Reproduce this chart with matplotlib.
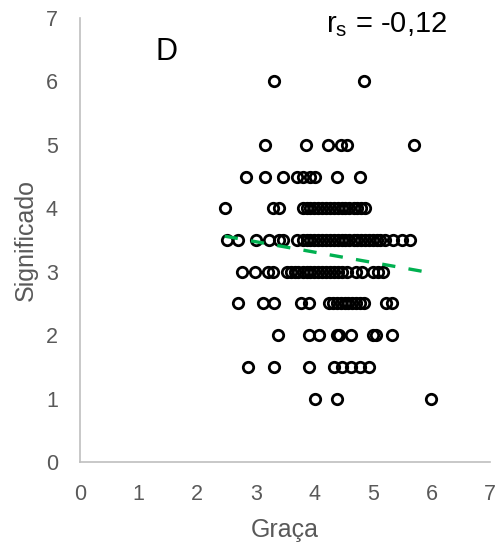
import numpy as np
import matplotlib.pyplot as plt

plt.rcParams['font.family'] = ['Liberation Sans', 'DejaVu Sans']

# valores de Graça para cada nível de Significado
graca_6 = [3.32, 4.85]
graca_5 = [3.16, 3.86, 4.23, 4.46, 4.55, 5.71]
graca_45 = [2.84, 3.16, 3.46, 3.70, 3.80, 3.92, 4.01, 4.38, 4.78]
graca_4 = [2.47, 3.30, 3.40, 3.80, 3.87, 3.93, 4.00, 4.07, 4.13, 4.20, 4.27,
           4.33, 4.40, 4.47, 4.53, 4.60, 4.67, 4.73, 4.80, 4.87]
graca_35 = [2.51, 2.70, 3.01, 3.23, 3.40, 3.46, 3.70, 3.80, 3.87, 3.93, 4.00,
            4.07, 4.13, 4.20, 4.27, 4.33, 4.40, 4.47, 4.53, 4.60, 4.67, 4.73,
            4.80, 4.87, 4.93, 5.00, 5.07, 5.13, 5.20, 5.35, 5.49, 5.63]
graca_3 = [2.76, 2.99, 3.21, 3.30, 3.53, 3.60, 3.67, 3.73, 3.80, 3.87, 3.93,
           4.00, 4.07, 4.13, 4.20, 4.27, 4.33, 4.40, 4.47, 4.55, 4.72, 4.81,
           5.01, 5.09, 5.18]
graca_25 = [2.70, 3.13, 3.31, 3.78, 3.91, 4.25, 4.32, 4.38, 4.45, 4.52, 4.58,
            4.65, 4.72, 4.78, 4.85, 5.23, 5.32]
graca_2 = [3.38, 3.91, 4.08, 4.38, 4.43, 4.62, 5.01, 5.06, 5.32]
graca_15 = [2.86, 3.31, 3.91, 4.34, 4.48, 4.62, 4.78, 4.94]
graca_1 = [4.01, 4.38, 6.0]

niveis = [6, 5, 4.5, 4, 3.5, 3, 2.5, 2, 1.5, 1]
linhas = [graca_6, graca_5, graca_45, graca_4, graca_35, graca_3,
          graca_25, graca_2, graca_15, graca_1]

# linha de tendência (pontas)
tendencia_x = [2.47, 6.0]
tendencia_y = [3.56, 2.98]

x = []
y = []
for nivel, linha in zip(niveis, linhas):
    x += linha
    y += [nivel] * len(linha)

fig = plt.figure(figsize=(5, 5.46), dpi=100)
ax = fig.add_axes([0.16, 0.154, 0.82, 0.813])

ax.plot(x, y, 'o', markersize=7.5, markerfacecolor='none',
        markeredgecolor='black', markeredgewidth=2, zorder=2)
ax.plot(tendencia_x, tendencia_y, color='#00B050', lw=2.4,
        dashes=(4, 4), zorder=3)

ax.set_xlim(0, 7)
ax.set_ylim(0, 7)
ax.set_xticks(range(8))
ax.set_yticks(range(8))
ax.tick_params(length=0, labelsize=15.5, colors='#595959', pad=16)
for s in ['top', 'right']:
    ax.spines[s].set_visible(False)
for s in ['left', 'bottom']:
    ax.spines[s].set_color('#BFBFBF')
    ax.spines[s].set_linewidth(1.2)

ax.set_xlabel('Graça', fontsize=18, color='#595959', labelpad=9)
ax.set_ylabel('Significado', fontsize=18, color='#595959', labelpad=6)

ax.text(1.48, 6.47, 'D', fontsize=22, ha='center', va='center')
ax.text(5.24, 6.89, r'r$_\mathregular{s}$ = -0,12', fontsize=21,
        ha='center', va='center')

fig.savefig('out.png', dpi=100)
